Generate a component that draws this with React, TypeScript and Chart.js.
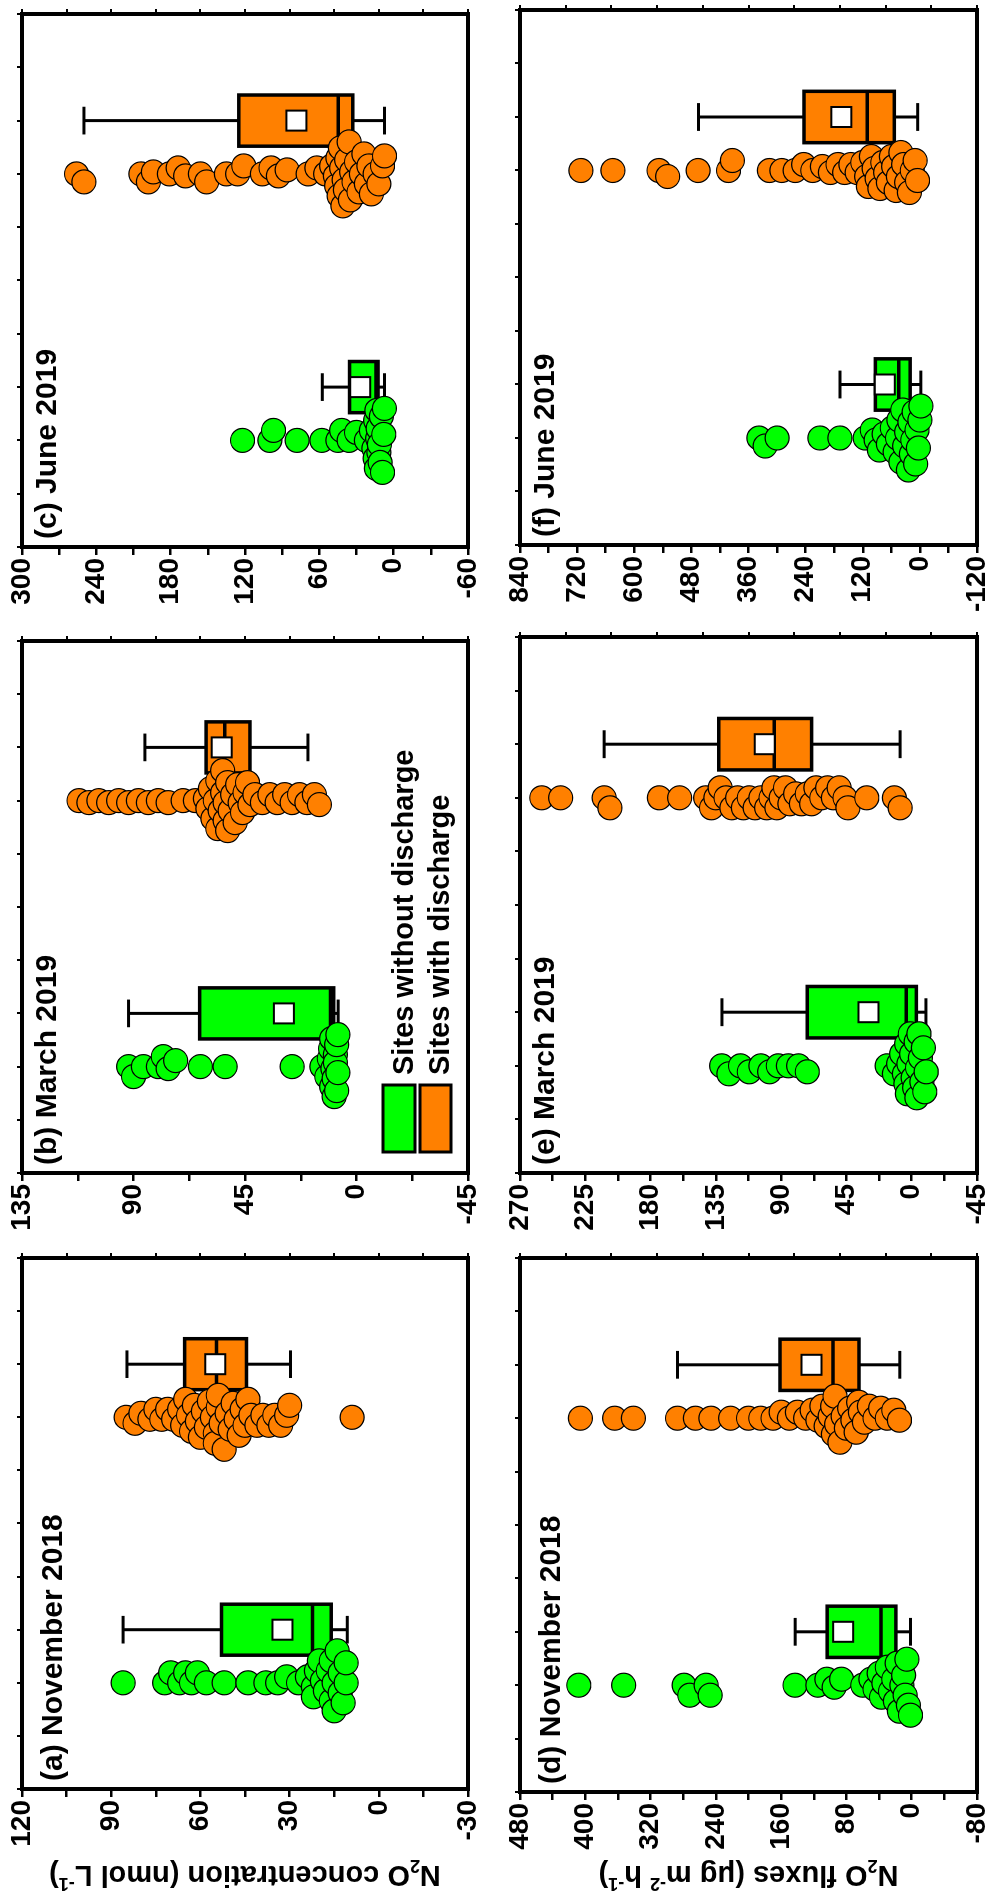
import React, { useEffect, useRef } from 'react';
import { Chart, registerables } from 'chart.js';

Chart.register(...registerables);

const FONT = "'Liberation Sans', Arial, Helvetica, sans-serif";
Chart.defaults.font.family = FONT;

const GREEN = '#00ff00';
const ORANGE = '#ff8000';

// ---------------- data ----------------
const groupNames = ['Sites without discharge', 'Sites with discharge'];
const panelLabels = ['(a) November 2018', '(b) March 2019', '(c) June 2019', '(d) November 2018', '(e) March 2019', '(f) June 2019'];
const concTitle = 'concentration';
const fluxTitle = 'fluxes';

// tick labels (value axis)
const ticksConcNov = [120, 90, 60, 30, 0, -30];
const ticksConcMar = [135, 90, 45, 0, -45];
const ticksConcJun = [300, 240, 180, 120, 60, 0, -60];
const ticksFluxNov = [480, 400, 320, 240, 160, 80, 0, -80];
const ticksFluxMar = [270, 225, 180, 135, 90, 45, 0, -45];
const ticksFluxJun = [840, 720, 600, 480, 360, 240, 120, 0, -120];

// individual sites: N2O concentration (nmol L-1)
const concNovWithout = [86, 72, 70, 67, 65, 63, 61, 58, 52, 44, 38, 34, 31, 27, 24, 22, 22, 21, 20, 19, 18, 17, 16, 16, 15, 15, 14, 13, 13, 12, 11, 11];
const concNovWith = [85, 82, 80, 77, 75, 73, 71, 69, 67, 66, 65, 64, 63, 62, 61, 60, 59, 58, 57, 56, 55, 55, 54, 54, 53, 52, 51, 50, 49, 48, 47, 46, 45, 44, 43, 41, 39, 37, 35, 33, 31, 30, 9];
const concMarWithout = [92, 90, 86, 80, 78, 76, 73, 63, 53, 26, 14, 12, 11, 10.5, 10, 10, 9.5, 9, 9, 8.5, 8.5, 8, 8, 7.5, 7.5];
const concMarWith = [112, 108, 104, 100, 96, 92, 88, 84, 80, 76, 70, 65, 61, 60, 59, 58, 57, 56, 56, 55, 54, 54, 53, 53, 52, 52, 51, 50, 49, 48, 47, 46, 45, 44, 43, 41, 38, 35, 32, 29, 26, 23, 20, 17, 15];
const concJunWithout = [122, 100, 97, 78, 58, 45, 42, 36, 30, 22, 18, 16, 15, 14.5, 14, 13.5, 13, 12.5, 12, 11.5, 11, 10, 9, 8, 7.5];
const concJunWith = [256, 250, 204, 198, 194, 181, 174, 168, 156, 151, 135, 126, 121, 106, 99, 93, 86, 69, 62, 55, 50, 47, 46, 45, 44, 43, 42, 41, 40, 39, 38, 36, 35, 34, 32, 30, 28, 26, 24, 22, 20, 18, 15, 12, 9, 7.4];

// individual sites: N2O fluxes (ug m-2 h-1)
const fluxNovWithout = [408, 353, 279, 272, 252, 247, 143, 115, 104, 95, 86, 60, 50, 45, 40, 37, 34, 30, 26, 22, 20, 18, 15, 12, 10, 8, 6, 4, 1.5];
const fluxNovWith = [406, 364, 341, 287, 265, 246, 222, 200, 185, 170, 160, 150, 140, 130, 122, 115, 110, 105, 100, 97, 96, 94, 92, 88, 84, 80, 76, 72, 68, 65, 63, 58, 52, 45, 38, 30, 22, 15];
const fluxMarWithout = [131, 126, 118, 112, 104, 98, 92, 85, 78, 72, 17, 12, 9, 7, 5, 4, 3.5, 3, 2, 1, 0, -1, -2, -3, -3.5, -4, -5, -6, -7, -8, -9, -10];
const fluxMarWith = [255, 242, 212, 208, 174, 160, 142, 138, 135, 132, 128, 124, 120, 116, 112, 108, 104, 100, 97, 95, 93, 90, 87, 84, 80, 76, 72, 69, 66, 62, 58, 54, 50, 46, 44, 31, 12, 8];
const fluxJunWithout = [338, 325, 300, 210, 168, 115, 100, 92, 85, 75, 66, 58, 52, 47, 44, 40, 36, 32, 28, 24, 21, 18, 15, 12, 9, 6, 3, 0, -2];
const fluxJunWith = [712, 645, 548, 530, 466, 402, 394, 316, 290, 262, 244, 225, 205, 188, 172, 158, 145, 132, 120, 112, 108, 102, 96, 90, 84, 78, 72, 66, 60, 55, 50, 45, 40, 34, 28, 22, 16, 10, 5];

// box statistics: [lower whisker, Q1, median, Q3, upper whisker, mean]
const boxConcNovWithout = [10.6, 16, 22.3, 52.9, 86, 32.4];
const boxConcNovWith = [29.7, 44.5, 54.6, 65.3, 84.7, 55];
const boxConcMarWithout = [7.4, 9.2, 10.5, 63.3, 92, 29.3];
const boxConcMarWith = [19.6, 43, 53.2, 60.7, 85.4, 54.4];
const boxConcJunWithout = [7.4, 12.6, 14.3, 35.6, 57.6, 27];
const boxConcJunWith = [7.4, 33, 44.7, 125, 250, 78.5];
const boxFluxNovWithout = [1.5, 19.4, 37.7, 103.6, 142.8, 84];
const boxFluxNovWith = [14.6, 64.6, 96.5, 161.4, 287, 122.8];
const boxFluxMarWithout = [-9.8, -3.2, 3.7, 72, 130.8, 29.8];
const boxFluxMarWith = [8, 69, 94.7, 133, 212, 101.3];
const boxFluxJunWithout = [-2, 20.4, 44.2, 93.5, 167.8, 73.7];
const boxFluxJunWith = [4.6, 53.7, 110.7, 243.4, 465, 165];

// ---------------- layout (figure drawn unrotated, 1903 x 988, then turned) ----------------
const FIG_W = 1903;
const FIG_H = 988;
const LEFT = 110, RIGHT = 20, TOP = 20, BOTTOM = 20;
const CAT_MAX = 10;
const POS_PTS = [2, 7];
const POS_BOX = [3, 8];
const BOX_HALF = 0.48;
const CAP_HALF = 0.26;
const SWARM_DIST = 10;
const SWARM_CAP = 32;

type Frame = { x0: number; x1: number; y0: number; y1: number };
type PanelDef = {
  label: string;
  frame: Frame;
  labelDy: number;
  ticks: number[];
  without: number[];
  withD: number[];
  boxWithout: number[];
  boxWith: number[];
  axisTitle?: string;
  legend?: boolean;
};

const PANELS: PanelDef[] = [
  { label: panelLabels[0], frame: { x0: 114, x1: 645, y0: 22, y1: 468 }, labelDy: 40, ticks: ticksConcNov, without: concNovWithout, withD: concNovWith, boxWithout: boxConcNovWithout, boxWith: boxConcNovWith, axisTitle: concTitle },
  { label: panelLabels[1], frame: { x0: 730, x1: 1262, y0: 22, y1: 468 }, labelDy: 34, ticks: ticksConcMar, without: concMarWithout, withD: concMarWith, boxWithout: boxConcMarWithout, boxWith: boxConcMarWith, legend: true },
  { label: panelLabels[2], frame: { x0: 1356, x1: 1889, y0: 22, y1: 468 }, labelDy: 34, ticks: ticksConcJun, without: concJunWithout, withD: concJunWith, boxWithout: boxConcJunWithout, boxWith: boxConcJunWith },
  { label: panelLabels[3], frame: { x0: 111, x1: 645, y0: 520, y1: 977 }, labelDy: 40, ticks: ticksFluxNov, without: fluxNovWithout, withD: fluxNovWith, boxWithout: boxFluxNovWithout, boxWith: boxFluxNovWith, axisTitle: fluxTitle },
  { label: panelLabels[4], frame: { x0: 730, x1: 1266, y0: 520, y1: 977 }, labelDy: 34, ticks: ticksFluxMar, without: fluxMarWithout, withD: fluxMarWith, boxWithout: boxFluxMarWithout, boxWith: boxFluxMarWith },
  { label: panelLabels[5], frame: { x0: 1358, x1: 1893, y0: 520, y1: 977 }, labelDy: 34, ticks: ticksFluxJun, without: fluxJunWithout, withD: fluxJunWith, boxWithout: boxFluxJunWithout, boxWith: boxFluxJunWith },
];

// deterministic compact beeswarm: pixel offsets along the category direction
function swarm(values: number[], pxPerVal: number, minDist: number, cap: number): number[] {
  const placed: { v: number; o: number }[] = [];
  const out: number[] = [];
  const step = 2;
  values.forEach((val, i) => {
    const vy = val * pxPerVal;
    const sign = i % 2 === 0 ? 1 : -1;
    let best = 0;
    let bestScore = -Infinity;
    for (let k = 0; k < 1000; k++) {
      const mag = Math.ceil(k / 2) * step;
      if (mag > cap) break;
      const o = k === 0 ? 0 : k % 2 === 1 ? sign * mag : -sign * mag;
      let dmin = Infinity;
      for (const p of placed) {
        const dx = o - p.o;
        const dy = vy - p.v;
        const d = Math.sqrt(dx * dx + dy * dy);
        if (d < dmin) dmin = d;
      }
      if (dmin >= minDist) { best = o; break; }
      if (dmin > bestScore) { bestScore = dmin; best = o; }
    }
    placed.push({ v: vy, o: best });
    out.push(best);
  });
  return out;
}

type Part = { t: string; k: 'n' | 'sub' | 'sup' };

function drawRich(ctx: CanvasRenderingContext2D, parts: Part[], size: number) {
  const small = Math.round(size * 0.62);
  const fontN = `bold ${size}px ${FONT}`;
  const fontS = `bold ${small}px ${FONT}`;
  let total = 0;
  parts.forEach((p) => {
    ctx.font = p.k === 'n' ? fontN : fontS;
    total += ctx.measureText(p.t).width;
  });
  let x = -total / 2;
  ctx.textAlign = 'left';
  ctx.textBaseline = 'alphabetic';
  parts.forEach((p) => {
    ctx.font = p.k === 'n' ? fontN : fontS;
    const dy = p.k === 'sub' ? size * 0.22 : p.k === 'sup' ? -size * 0.4 : 0;
    ctx.fillText(p.t, x, dy);
    x += ctx.measureText(p.t).width;
  });
}

function titleParts(kind: string): Part[] {
  if (kind === concTitle) {
    return [
      { t: 'N', k: 'n' }, { t: '2', k: 'sub' }, { t: 'O concentration (nmol L', k: 'n' }, { t: '-1', k: 'sup' }, { t: ')', k: 'n' },
    ];
  }
  return [
    { t: 'N', k: 'n' }, { t: '2', k: 'sub' }, { t: 'O fluxes (\u03bcg m', k: 'n' }, { t: '-2', k: 'sup' }, { t: ' h', k: 'n' }, { t: '-1', k: 'sup' }, { t: ')', k: 'n' },
  ];
}

function Panel({ p }: { p: PanelDef }) {
  const ref = useRef<HTMLCanvasElement>(null);
  const { frame } = p;
  const fw = frame.x1 - frame.x0;
  const fh = frame.y1 - frame.y0;
  const W = fw + LEFT + RIGHT;
  const H = fh + TOP + BOTTOM;
  const cl = frame.x0 - LEFT;
  const ct = frame.y0 - TOP;

  useEffect(() => {
    const canvas = ref.current;
    if (!canvas) return;
    const tmin = Math.min(...p.ticks);
    const tmax = Math.max(...p.ticks);
    const major = Math.abs(p.ticks[0] - p.ticks[1]);
    const minor = major / 2;
    const pxPerVal = fh / (tmax - tmin);
    const pxPerCat = fw / CAT_MAX;
    const mk = (vals: number[], pos: number) => {
      const offs = swarm(vals, pxPerVal, SWARM_DIST, SWARM_CAP);
      return vals.map((v, i) => ({ x: pos + offs[i] / pxPerCat, y: v }));
    };

    const boxPlugin = {
      id: 'boxes',
      beforeDatasetsDraw(chart: any) {
        const ctx: CanvasRenderingContext2D = chart.ctx;
        const xs = chart.scales.x;
        const ys = chart.scales.y;
        const line = (x1: number, y1: number, x2: number, y2: number) => {
          ctx.beginPath(); ctx.moveTo(x1, y1); ctx.lineTo(x2, y2); ctx.stroke();
        };
        const draw = (pos: number, st: number[], color: string) => {
          const [lo, q1, med, q3, hi, mean] = st;
          const xl = xs.getPixelForValue(pos - BOX_HALF);
          const xr = xs.getPixelForValue(pos + BOX_HALF);
          const xc = xs.getPixelForValue(pos);
          const cl2 = xs.getPixelForValue(pos - CAP_HALF);
          const cr2 = xs.getPixelForValue(pos + CAP_HALF);
          ctx.save();
          ctx.strokeStyle = '#000';
          ctx.lineCap = 'butt';
          ctx.lineWidth = 3;
          line(xc, ys.getPixelForValue(q3), xc, ys.getPixelForValue(hi));
          line(cl2, ys.getPixelForValue(hi), cr2, ys.getPixelForValue(hi));
          line(xc, ys.getPixelForValue(q1), xc, ys.getPixelForValue(lo));
          line(cl2, ys.getPixelForValue(lo), cr2, ys.getPixelForValue(lo));
          const yt = ys.getPixelForValue(q3);
          const yb = ys.getPixelForValue(q1);
          ctx.fillStyle = color;
          ctx.fillRect(xl, yt, xr - xl, yb - yt);
          ctx.lineWidth = 3.5;
          ctx.lineJoin = 'miter';
          ctx.strokeRect(xl, yt, xr - xl, yb - yt);
          line(xl, ys.getPixelForValue(med), xr, ys.getPixelForValue(med));
          const s = 20;
          const ym = ys.getPixelForValue(mean);
          ctx.fillStyle = '#fff';
          ctx.fillRect(xc - s / 2, ym - s / 2, s, s);
          ctx.lineWidth = 2;
          ctx.strokeRect(xc - s / 2, ym - s / 2, s, s);
          ctx.restore();
        };
        draw(POS_BOX[0], p.boxWithout, GREEN);
        draw(POS_BOX[1], p.boxWith, ORANGE);
      },
    };

    const textPlugin = {
      id: 'texts',
      afterDraw(chart: any) {
        const ctx: CanvasRenderingContext2D = chart.ctx;
        const a = chart.chartArea;
        ctx.save();
        ctx.strokeStyle = '#000';
        ctx.lineWidth = 4;
        ctx.lineJoin = 'miter';
        ctx.strokeRect(a.left, a.top, a.right - a.left, a.bottom - a.top);
        ctx.fillStyle = '#000';
        ctx.font = `bold 30px ${FONT}`;
        ctx.textAlign = 'left';
        ctx.textBaseline = 'alphabetic';
        ctx.fillText(p.label, a.left + 8, a.top + p.labelDy);
        if (p.legend) {
          const rows = [
            { name: groupNames[0], color: GREEN, y: a.top + 361, h: 32 },
            { name: groupNames[1], color: ORANGE, y: a.top + 398, h: 31 },
          ];
          rows.forEach((r) => {
            ctx.fillStyle = r.color;
            ctx.fillRect(a.left + 21, r.y, 67, r.h);
            ctx.lineWidth = 3;
            ctx.strokeStyle = '#000';
            ctx.strokeRect(a.left + 21, r.y, 67, r.h);
            ctx.fillStyle = '#000';
            ctx.font = `bold 29px ${FONT}`;
            ctx.fillText(r.name, a.left + 98, r.y + r.h - 2);
          });
        }
        if (p.axisTitle) {
          ctx.translate(37 - cl, (a.top + a.bottom) / 2);
          ctx.rotate(-Math.PI / 2);
          ctx.fillStyle = '#000';
          drawRich(ctx, titleParts(p.axisTitle), 29);
        }
        ctx.restore();
      },
    };

    const isMajor = (v: number) => Math.abs(v / major - Math.round(v / major)) < 1e-6;

    const chart = new Chart(canvas, {
      type: 'scatter',
      data: {
        datasets: [
          {
            label: groupNames[0],
            data: mk(p.without, POS_PTS[0]),
            pointRadius: 12,
            pointHoverRadius: 12,
            pointBackgroundColor: GREEN,
            pointBorderColor: '#000',
            pointBorderWidth: 1.2,
            backgroundColor: GREEN,
            borderColor: '#000',
          },
          {
            label: groupNames[1],
            data: mk(p.withD, POS_PTS[1]),
            pointRadius: 12,
            pointHoverRadius: 12,
            pointBackgroundColor: ORANGE,
            pointBorderColor: '#000',
            pointBorderWidth: 1.2,
            backgroundColor: ORANGE,
            borderColor: '#000',
          },
        ],
      },
      options: {
        animation: false,
        responsive: false,
        maintainAspectRatio: false,
        events: [],
        layout: { padding: 0, autoPadding: false },
        plugins: { legend: { display: false }, tooltip: { enabled: false } },
        scales: {
          x: {
            type: 'linear', position: 'bottom', min: 0, max: CAT_MAX,
            ticks: { display: false },
            grid: { display: false },
            border: { display: false },
            afterFit: (s: any) => { s.height = BOTTOM; },
          },
          x2: {
            type: 'linear', position: 'top', min: 0, max: CAT_MAX,
            ticks: { display: false, stepSize: 1 },
            grid: { drawOnChartArea: false, drawTicks: true, tickLength: 5, lineWidth: 2, color: '#000' },
            border: { display: false },
            afterFit: (s: any) => { s.height = TOP; },
          },
          y: {
            type: 'linear', position: 'left', min: tmin, max: tmax,
            ticks: {
              stepSize: minor,
              autoSkip: false,
              padding: 3,
              color: '#000',
              font: { size: 28, weight: 'bold', family: FONT },
              callback: (v: any) => (isMajor(Number(v)) ? String(v) : ''),
            },
            grid: { drawOnChartArea: false, drawTicks: true, tickLength: 8, lineWidth: 2.5, color: '#000' },
            border: { display: false },
            afterFit: (s: any) => { s.width = LEFT; },
          },
          y2: {
            type: 'linear', position: 'right', min: 0, max: 10,
            ticks: { display: false, stepSize: 1 },
            grid: { drawOnChartArea: false, drawTicks: true, tickLength: 5, lineWidth: 2, color: '#000' },
            border: { display: false },
            afterFit: (s: any) => { s.width = RIGHT; },
          },
        },
      } as any,
      plugins: [boxPlugin, textPlugin],
    });
    return () => chart.destroy();
  }, [p]);

  return (
    <canvas
      ref={ref}
      width={W}
      height={H}
      style={{ position: 'absolute', left: cl, top: ct, width: W, height: H }}
    />
  );
}

export default function App() {
  return (
    <div style={{ position: 'absolute', left: 0, top: 0, width: FIG_H, height: FIG_W, overflow: 'hidden', background: '#fff' }}>
      <div
        style={{
          position: 'absolute', left: 0, top: 0, width: FIG_W, height: FIG_H,
          transformOrigin: '0 0', transform: `translate(0px, ${FIG_W}px) rotate(-90deg)`,
        }}
      >
        {PANELS.map((p, i) => <Panel key={i} p={p} />)}
      </div>
    </div>
  );
}
